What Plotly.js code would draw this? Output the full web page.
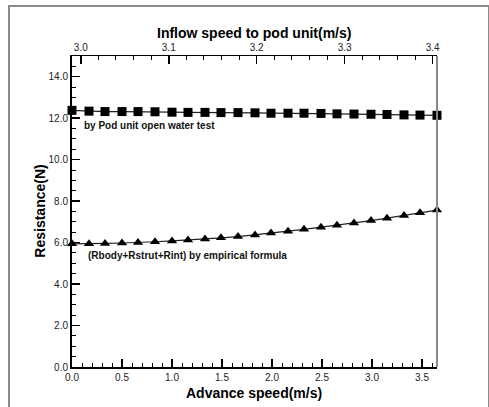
<!DOCTYPE html>
<html><head><meta charset="utf-8">
<script src="https://cdn.plot.ly/plotly-3.0.1.min.js"></script>
<style>
html,body{margin:0;padding:0;background:#fff;}
#wrap{position:relative;width:489px;height:407px;overflow:hidden;}
#chart{width:489px;height:407px;}
#frame{position:absolute;left:8px;top:5px;width:478px;height:420px;border:2px solid #8a8a8a;pointer-events:none;}
</style></head>
<body><div id="wrap"><div id="chart"></div><div id="frame"></div></div>
<script>
const advanceSpeed = [0.00, 0.17, 0.33, 0.50, 0.66, 0.83, 1.00, 1.16, 1.33, 1.49, 1.66, 1.83,
                      1.99, 2.16, 2.32, 2.49, 2.65, 2.82, 2.99, 3.15, 3.32, 3.48, 3.65];
const podTest = [12.38, 12.34, 12.32, 12.32, 12.32, 12.31, 12.29, 12.28, 12.28, 12.27, 12.27, 12.26,
                 12.24, 12.24, 12.24, 12.23, 12.21, 12.20, 12.19, 12.18, 12.16, 12.15, 12.14];
const empirical = [5.94, 5.94, 5.96, 5.98, 6.00, 6.04, 6.08, 6.12, 6.17, 6.23, 6.29, 6.37,
                   6.46, 6.55, 6.64, 6.74, 6.84, 6.95, 7.06, 7.18, 7.31, 7.44, 7.57];
const labelPod = "by Pod unit open water test";
const labelEmp = "(Rbody+Rstrut+Rint) by empirical formula";

const F = "Arial, 'Liberation Sans', sans-serif";
const traces = [
  {x: advanceSpeed, y: podTest, mode: 'lines+markers', type: 'scatter',
   line: {color: '#222', width: 1.2}, marker: {symbol: 'square', size: 9, color: '#000'}, cliponaxis: false},
  {x: advanceSpeed, y: empirical, mode: 'lines+markers', type: 'scatter',
   line: {color: '#222', width: 1.2}, marker: {symbol: 'triangle-up', size: 9, color: '#000'}, cliponaxis: false},
  {x: [], y: [], xaxis: 'x2', yaxis: 'y', type: 'scatter', mode: 'markers', showlegend: false}
];
const ax = {showgrid: false, zeroline: false, showline: true, linecolor: '#000', linewidth: 2,
  ticks: 'inside', ticklen: 8, tickwidth: 1.5, tickcolor: '#000',
  tickfont: {family: F, size: 10, color: '#222'}, tickformat: '.1f'};
const layout = {
  width: 489, height: 407, showlegend: false,
  margin: {l: 72, r: 52, t: 56, b: 40},
  paper_bgcolor: '#fff', plot_bgcolor: '#fff',
  font: {family: F},
  xaxis: Object.assign({}, ax, {range: [0, 3.65], dtick: 0.5, tick0: 0,
    minor: {dtick: 0.1, ticklen: 4, tickwidth: 1, tickcolor: '#000', ticks: 'inside'}}),
  xaxis2: Object.assign({}, ax, {overlaying: 'x', side: 'top', anchor: 'y', range: [2.99, 3.405], dtick: 0.1, tick0: 3.0,
    linewidth: 1.5,
    minor: {dtick: 0.02, ticklen: 4, tickwidth: 1, tickcolor: '#000', ticks: 'inside'}}),
  yaxis: Object.assign({}, ax, {range: [0, 15], dtick: 2, tick0: 0,
    minor: {dtick: 0.5, ticklen: 4, tickwidth: 1, tickcolor: '#000', ticks: 'inside'}}),
  shapes: [{type: 'line', xref: 'paper', yref: 'paper', x0: 1, x1: 1, y0: 0, y1: 1,
            line: {color: '#888', width: 2}}],
  annotations: [
    {text: '<b>Advance speed(m/s)</b>', xref: 'paper', yref: 'paper', x: 0.4986, y: -0.0820,
     showarrow: false, font: {family: F, size: 14, color: '#000'}, xanchor: 'center', yanchor: 'middle'},
    {text: '<b>Inflow speed to pod unit(m/s)</b>', xref: 'paper', yref: 'paper', x: 0.4986, y: 1.074,
     showarrow: false, font: {family: F, size: 14, color: '#000'}, xanchor: 'center', yanchor: 'middle'},
    {text: '<b>Resistance(N)</b>', xref: 'paper', yref: 'paper', x: -0.090, y: 0.5,
     textangle: -90, showarrow: false, font: {family: F, size: 14, color: '#000'}, xanchor: 'center', yanchor: 'middle'},
    {text: '<b>' + labelPod + '</b>', xref: 'x', yref: 'y', x: 0.10, y: 11.63, xanchor: 'left', yanchor: 'middle',
     showarrow: false, font: {family: F, size: 10, color: '#111'}},
    {text: '<b>' + labelEmp + '</b>', xref: 'x', yref: 'y', x: 0.14, y: 5.36, xanchor: 'left', yanchor: 'middle',
     showarrow: false, font: {family: F, size: 10, color: '#111'}}
  ]
};
Plotly.newPlot('chart', traces, layout, {displayModeBar: false, staticPlot: true});
</script></body></html>
